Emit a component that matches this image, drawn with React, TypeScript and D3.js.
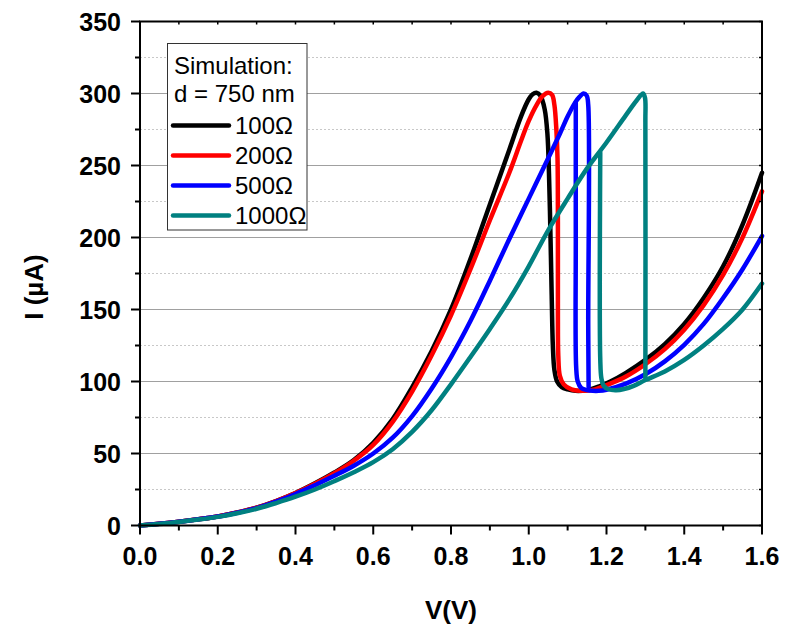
import React from "react";
import * as d3 from "d3";

const xTicks = [0, 0.2, 0.4, 0.6, 0.8, 1.0, 1.2, 1.4, 1.6];
const xMinorTicks = [0.1, 0.3, 0.5, 0.7, 0.9, 1.1, 1.3, 1.5];
const yTicks = [0, 50, 100, 150, 200, 250, 300, 350];
const yMinorTicks = [25, 75, 125, 175, 225, 275, 325];

const seriesNames = ["100Ω", "200Ω", "500Ω", "1000Ω"];
const seriesColors = ["#000000", "#ff0000", "#0000ff", "#008080"];
const legendTitle = ["Simulation:", "d = 750 nm"];

// 100 Ω: single sweep
const v100 = [0,0.05,0.1,0.15,0.2,0.25,0.3,0.35,0.4,0.45,0.5,0.55,0.6,0.65,0.7,0.75,0.8,0.85,0.9,0.95,0.98,1.0,1.01,1.02,1.03,1.041,1.048,1.052,1.056,1.059,1.062,1.066,1.073,1.085,1.1,1.12,1.15,1.18,1.21,1.25,1.3,1.35,1.4,1.45,1.5,1.55,1.6];
const i100 = [0,1.2,2.6,4.3,6.3,9,12.4,17,22.6,29.3,36.8,45.5,57.5,74,96,121,150,185,223,261,284,296,299.5,300.5,298.5,289,272,245,200,160,125,108,100,96,94.5,93.5,94,96.5,100,106,115,126,140,158,180,209,245];

// 200 Ω: single sweep
const v200 = [0,0.05,0.1,0.15,0.2,0.25,0.3,0.35,0.4,0.45,0.5,0.55,0.6,0.65,0.7,0.75,0.8,0.85,0.9,0.95,0.98,1.0,1.02,1.035,1.05,1.06,1.066,1.071,1.074,1.075,1.075,1.076,1.08,1.09,1.11,1.14,1.17,1.2,1.25,1.3,1.35,1.4,1.45,1.5,1.55,1.6];
const i200 = [0,1.2,2.6,4.3,6.3,9,12.4,17,22.5,29,36.3,45,56,72,93,118,146,178,212,245,267,281,292,298,300.5,299,292,275,255,210,150,118,104,98,94.5,93.5,94.5,97.5,103.5,112,122.5,136,153,174,200,232];

// 500 Ω: forward sweep (up, peak, drop) and backward sweep (lower branch, jump up)
const v500 = [0,0.05,0.1,0.15,0.2,0.25,0.3,0.35,0.4,0.45,0.5,0.55,0.6,0.65,0.7,0.75,0.8,0.85,0.9,0.95,1.0,1.05,1.08,1.1,1.12,1.13,1.141,1.149,1.153,1.153,1.154];
const i500 = [0,1.2,2.6,4.3,6.2,8.9,12.1,16.6,21.9,28,34.5,41.5,50,61,76,95,117,142,170,199,227,255,272,284,294,297.5,300,298.5,292,140,96];
const v500Back = [1.6,1.55,1.5,1.45,1.4,1.35,1.3,1.25,1.2,1.18,1.165,1.15,1.135,1.126,1.122,1.121,1.121];
const i500Back = [201,178,158,140,125.5,114,105,98.5,94.3,93.5,93.5,94,95.5,100,110,200,294];

// 1000 Ω: forward sweep and backward sweep
const v1000 = [0,0.05,0.1,0.15,0.2,0.25,0.3,0.35,0.4,0.45,0.5,0.55,0.6,0.65,0.7,0.75,0.8,0.85,0.9,0.95,1.0,1.05,1.1,1.15,1.2,1.25,1.277,1.294,1.299,1.3,1.3];
const i1000 = [0,1.1,2.5,4.1,6,8.5,11.6,15.6,20,25,30.8,37,44,53,65,80,98,117,136.5,157,180,205,227,248,266,285,295,300,297,280,102];
const v1000Back = [1.6,1.55,1.5,1.45,1.4,1.35,1.3,1.27,1.245,1.225,1.205,1.193,1.187,1.184,1.184];
const i1000Back = [168,150,136.5,125,115,107,101,97,94.8,94,94.6,97,102,115,259];

const seriesV = [v100, v200, v500, v1000];
const seriesI = [i100, i200, i500, i1000];
const backV = [[], [], v500Back, v1000Back];
const backI = [[], [], i500Back, i1000Back];

const W = 796;
const H = 627;
const left = 140;
const right = 762;
const top = 21.5;
const bottom = 525.5;
const FONT = "'Liberation Sans', Arial, Helvetica, sans-serif";

export default function App() {
  const x = d3.scaleLinear().domain([0, 1.6]).range([left, right]);
  const y = d3.scaleLinear().domain([0, 350]).range([bottom, top]);
  const line = d3
    .line<[number, number]>()
    .x((d) => x(d[0]))
    .y((d) => y(d[1]))
    .curve(d3.curveCatmullRom.alpha(0.5));

  const toPts = (vs: number[], is: number[]) => vs.map((v, k) => [v, is[k]] as [number, number]);

  const legX = 167.5;
  const legY = 43.5;
  const legW = 139.5;
  const legH = 186.5;

  return (
    <svg width={W} height={H} style={{ position: "absolute", left: 0, top: 0, background: "#fff" }} fontFamily={FONT}>
      <rect x={0} y={0} width={W} height={H} fill="#fff" />
      {yMinorTicks.map((t) => (
        <line key={"mg" + t} x1={left} x2={right} y1={y(t)} y2={y(t)} stroke="#c8c8c8" strokeWidth={1} strokeDasharray="2,2" />
      ))}
      {yTicks.filter((t) => t > 0 && t < 350).map((t) => (
        <line key={"g" + t} x1={left} x2={right} y1={y(t)} y2={y(t)} stroke="#a0a0a0" strokeWidth={1.2} />
      ))}

      {seriesV.map((vs, k) => (
        <g key={"s" + k}>
          <path d={line(toPts(vs, seriesI[k])) || ""} fill="none" stroke={seriesColors[k]} strokeWidth={4.5} strokeLinejoin="round" strokeLinecap="round" />
          {backV[k].length > 0 && (
            <path d={line(toPts(backV[k], backI[k])) || ""} fill="none" stroke={seriesColors[k]} strokeWidth={4.5} strokeLinejoin="round" strokeLinecap="round" />
          )}
        </g>
      ))}

      <rect x={left} y={top} width={right - left} height={bottom - top} fill="none" stroke="#000" strokeWidth={2} />

      {yTicks.map((t) => (
        <line key={"yt" + t} x1={left - 9} x2={left} y1={y(t)} y2={y(t)} stroke="#000" strokeWidth={2} />
      ))}
      {yMinorTicks.map((t) => (
        <line key={"ymt" + t} x1={left - 5} x2={left} y1={y(t)} y2={y(t)} stroke="#000" strokeWidth={2} />
      ))}
      {[...yTicks, ...yMinorTicks].map((t) => (
        <line key={"rt" + t} x1={right - 3} x2={right} y1={y(t)} y2={y(t)} stroke="#000" strokeWidth={1.5} />
      ))}
      {xTicks.map((t) => (
        <line key={"xt" + t} x1={x(t)} x2={x(t)} y1={bottom} y2={bottom + 9} stroke="#000" strokeWidth={2} />
      ))}
      {xMinorTicks.map((t) => (
        <line key={"xmt" + t} x1={x(t)} x2={x(t)} y1={bottom} y2={bottom + 5} stroke="#000" strokeWidth={2} />
      ))}
      {[...xTicks, ...xMinorTicks].map((t) => (
        <line key={"tt" + t} x1={x(t)} x2={x(t)} y1={top} y2={top + 3} stroke="#000" strokeWidth={1.5} />
      ))}

      {yTicks.map((t) => (
        <text key={"yl" + t} x={121} y={y(t)} dy="0.36em" textAnchor="end" fontSize={25} fontWeight="bold" fill="#000">
          {t}
        </text>
      ))}
      {xTicks.map((t) => (
        <text key={"xl" + t} x={x(t)} y={565} textAnchor="middle" fontSize={25} fontWeight="bold" fill="#000">
          {t.toFixed(1)}
        </text>
      ))}

      <text x={(left + right) / 2} y={619} textAnchor="middle" fontSize={26} fontWeight="bold" fill="#000">
        V(V)
      </text>
      <text transform={`translate(43, 287) rotate(-90)`} textAnchor="middle" fontSize={26} fontWeight="bold" fill="#000">
        I (µA)
      </text>

      <rect x={legX} y={legY} width={legW} height={legH} fill="#fff" stroke="#333" strokeWidth={1} />
      {legendTitle.map((s, k) => (
        <text key={"lt" + k} x={174} y={74 + k * 28} fontSize={24} fill="#000">
          {s}
        </text>
      ))}
      {seriesNames.map((s, k) => {
        const yy = 125.5 + k * 30;
        return (
          <g key={"le" + k}>
            <line x1={173} x2={229} y1={yy} y2={yy} stroke={seriesColors[k]} strokeWidth={4.5} strokeLinecap="round" />
            <text x={235} y={yy + 8.5} fontSize={24} fill="#000">
              {s}
            </text>
          </g>
        );
      })}
    </svg>
  );
}
